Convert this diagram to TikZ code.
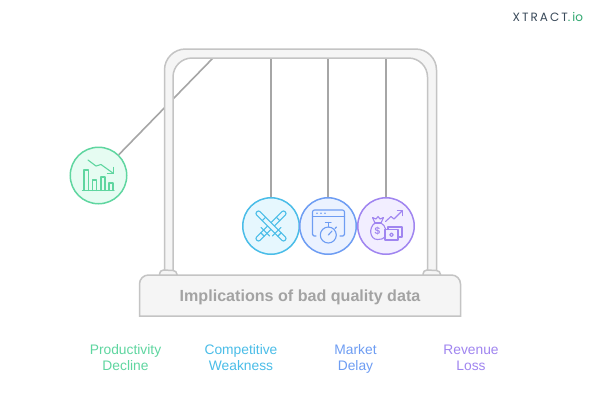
\documentclass[tikz,border=0pt]{standalone}
\usepackage{fontspec}
\setmainfont{Liberation Sans}
\newfontfamily\logofont{Poppins}
\usetikzlibrary{arrows.meta}
\definecolor{cgreen}{HTML}{5FD6A0}
\definecolor{cblue}{HTML}{4ABDE8}
\definecolor{cindigo}{HTML}{6E9DF3}
\definecolor{cviolet}{HTML}{A085F0}
\definecolor{fcgreen}{HTML}{E6FCF2}
\definecolor{fcblue}{HTML}{E6F7FE}
\definecolor{fcindigo}{HTML}{EBF2FF}
\definecolor{fcviolet}{HTML}{F2EEFF}
\definecolor{frameline}{HTML}{C4C4C4}
\definecolor{framefill}{HTML}{F5F5F5}
\definecolor{stringc}{HTML}{A6A6A6}
\definecolor{titlec}{HTML}{A3A3A3}
\definecolor{logodark}{HTML}{3A4A5A}
\definecolor{logogreen}{HTML}{2FA86F}
\tikzset{
  ball/.style={circle,draw=#1,fill=f#1,line width=1.5pt,minimum size=56.5pt,inner sep=0pt},
  stringline/.style={draw=stringc,line width=1.6pt},
  framepart/.style={draw=frameline,fill=framefill,line width=1.5pt},
  lab/.style={font=\fontsize{13.8}{16.6}\selectfont,align=center,text=#1},
  ico/.style={color=#1,line width=1.1pt,line join=round,line cap=round},
}
\begin{document}
\begin{tikzpicture}[x=1pt,y=-1pt]
\useasboundingbox[fill=white] (0,0) rectangle (600,400);
% anchors of the strings on the frame
\coordinate (topA) at (213,58);
\coordinate (topB) at (271,58);
\coordinate (topC) at (328,58);
\coordinate (topD) at (386,58);
% balls
\node[ball=cgreen] (b1) at (98.5,175.5) {};
\node[ball=cblue] (b2) at (271,226) {};
\node[ball=cindigo] (b3) at (328,226) {};
\node[ball=cviolet] (b4) at (386,226) {};
% strings
\draw[stringline] (topA) -- (b1);
\draw[stringline] (topB) -- (b2.north);
\draw[stringline] (topC) -- (b3.north);
\draw[stringline] (topD) -- (b4.north);
% frame
\draw[framepart]
  (164.5,271) -- (164.5,70) arc[start angle=180,end angle=270,radius=21] -- (415.5,49)
  arc[start angle=-90,end angle=0,radius=21] -- (436.5,271) -- (427.5,271) -- (427.5,77)
  arc[start angle=0,end angle=-90,radius=19] -- (192,58)
  arc[start angle=270,end angle=180,radius=19] -- (173,271) -- cycle;
% feet
\draw[framepart] (159.5,275.5) -- (159.5,274) arc[start angle=180,end angle=270,radius=4] -- (173,270.5) arc[start angle=-90,end angle=0,radius=4] -- (177,275.5) -- cycle;
\draw[framepart] (423,275.5) -- (423,274) arc[start angle=180,end angle=270,radius=4] -- (436.5,270.5) arc[start angle=-90,end angle=0,radius=4] -- (440.5,275.5) -- cycle;
% base
\draw[framepart] (139.5,316) -- (139.5,284) arc[start angle=180,end angle=270,radius=9] -- (451.5,275) arc[start angle=-90,end angle=0,radius=9] -- (460.5,316) -- cycle;
\node[font=\bfseries\fontsize{16.1}{18}\selectfont,text=titlec] (title) at (300,297) {Implications of bad quality data};
% labels
\node[lab=cgreen] (l1) at (125.5,359) {Productivity\strut\\Decline\strut};
\node[lab=cblue] (l2) at (241,359) {Competitive\strut\\Weakness\strut};
\node[lab=cindigo] (l3) at (355.5,359) {Market\strut\\Delay\strut};
\node[lab=cviolet] (l4) at (471,359) {Revenue\strut\\Loss\strut};
% logo
\node[font=\logofont\fontsize{12}{12}\selectfont,anchor=west,inner sep=0pt] (logo) at (512.5,17)
  {\textcolor{logodark}{X\,T\,R\,A\,C\,T}\textcolor{logogreen}{.\,io}};
% icon: chart
\begin{scope}[ico=cgreen]
  \draw (82.5,190.5) -- (114,190.5);
  \draw (84,190.5) -- (84,170) -- (88.5,170) -- (88.5,190.5);
  \draw (92.5,190.5) -- (92.5,180) -- (96.5,180) -- (96.5,190.5);
  \draw (101,190.5) -- (101,177) -- (105,177) -- (105,190.5);
  \draw (109,190.5) -- (109,183) -- (113,183) -- (113,190.5);
  \draw (88,160) -- (96,166) -- (101,164.5) -- (113.5,173.5);
  \draw (113.5,167.5) -- (113.5,173.5) -- (107.5,173.5);
\end{scope}
% icon: crossed swords
\begin{scope}[ico=cblue]
  \foreach \ang in {45,135}{
  \begin{scope}[shift={(271,226)},rotate=\ang]
    \draw[rounded corners=2pt,fill=fcblue] (-20,-2.4) rectangle (20,2.4);
    \draw (10,-2.4) -- (10,2.4);
    \draw (-8,-6) -- (-8,6);
    \draw (-12,-2.4) -- (-12,2.4);
  \end{scope}}
\end{scope}
% icon: window and stopwatch
\begin{scope}[ico=cindigo]
  \draw (316,236) -- (314,236) arc[start angle=90,end angle=180,radius=1.5];
  \draw (312.5,234.5) -- (312.5,212) arc[start angle=180,end angle=270,radius=2] -- (342.5,210) arc[start angle=-90,end angle=0,radius=2] -- (344.5,234.5) arc[start angle=0,end angle=90,radius=1.5] -- (340,236);
  \draw (312.5,216.5) -- (344.5,216.5);
  \fill[cindigo,draw=none] (317,213.3) circle (0.9) (321,213.3) circle (0.9) (325,213.3) circle (0.9);
  \draw[fill=fcindigo] (328.3,235) circle (8);
  \draw (328.3,227) -- (328.3,222.5) (325.5,222.5) -- (331,222.5);
  \draw (335,228.5) -- (336.5,227);
  \draw (328.3,235) -- (332,231);
\end{scope}
% icon: money and growth
\begin{scope}[ico=cviolet]
  \draw (375,223) .. controls (368,228) and (370,239.5) .. (377.5,239.5) .. controls (381,239.5) and (383,239) .. (385,237);
  \draw (381,223) .. controls (383.5,224.5) and (385,226.5) .. (385.5,229);
  \draw (375,223) -- (381,223);
  \draw (375,223) -- (372.5,217.5) -- (376,219) -- (378,216.5) -- (380,219) -- (383.5,217.5) -- (381,223);
  \node[font=\bfseries\fontsize{10}{10}\selectfont,text=cviolet,inner sep=0pt] (dollar) at (377.5,231.5) {\$};
  \draw (385,229.5) rectangle (398,240);
  \draw (388,229.5) -- (388,227) -- (402,227) -- (402,237) -- (398,237);
  \draw (391.5,234.8) circle (1.8);
  \draw (385.5,221.5) -- (391,216.5) -- (394,219) -- (402,211);
  \draw (397.5,210.8) -- (402.2,210.8) -- (402.2,215.5);
\end{scope}
\end{tikzpicture}
\end{document}
